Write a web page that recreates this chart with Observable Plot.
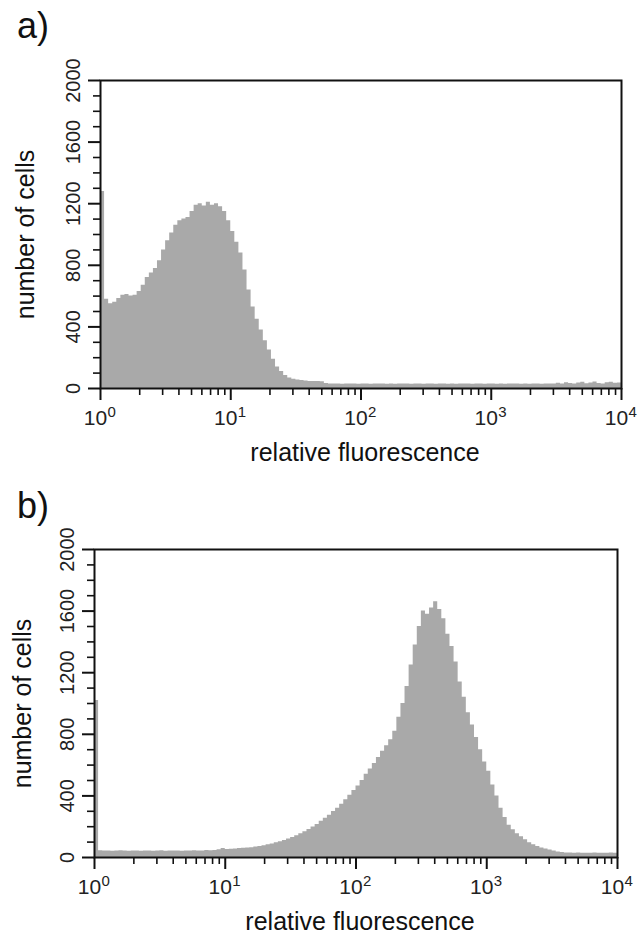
<!DOCTYPE html>
<html><head><meta charset="utf-8">
<script src="https://cdn.jsdelivr.net/npm/d3@7"></script>
<script src="https://cdn.jsdelivr.net/npm/@observablehq/plot@0.6"></script>
<style>
body{margin:0;background:#fff;font-family:"Liberation Sans",Arial,sans-serif;}
.panel{position:relative;width:639px;}
.tag{position:absolute;left:17px;font-size:36px;line-height:1;color:#111;}
svg{display:block}
</style></head><body>
<div id="pa" class="panel"><div class="tag" style="top:8px">a)</div></div>
<div id="pb" class="panel"><div class="tag" style="top:18px">b)</div></div>
<script>
// histogram channels: 32 bins per decade, from 10^0 to 10^4
const binsPerDecade = 32;
const countsA = [
  1280, 580, 550, 560, 585, 605, 610, 600,
  605, 630, 670, 720, 750, 780, 830, 900,
  960, 1010, 1060, 1090, 1100, 1110, 1150, 1190,
  1200, 1185, 1210, 1190, 1200, 1180, 1150, 1090,
  1020, 950, 880, 770, 640, 530, 450, 380,
  310, 250, 190, 140, 110, 85, 68, 60,
  55, 52, 48, 46, 45, 45, 44, 32,
  30, 29, 30, 28, 29, 30, 29, 28,
  29, 30, 28, 29, 29, 30, 28, 29,
  28, 29, 30, 29, 28, 29, 30, 28,
  29, 29, 28, 30, 29, 28, 29, 28,
  29, 30, 29, 28, 29, 29, 28, 30,
  29, 28, 29, 28, 29, 30, 29, 28,
  29, 28, 30, 29, 28, 29, 30, 29,
  34, 30, 38, 32, 29, 36, 40, 31,
  35, 42, 33, 30, 38, 41, 34, 36
];
const countsB = [
  1020, 44, 42, 43, 41, 42, 44, 42,
  41, 43, 42, 40, 42, 43, 41, 42,
  44, 41, 42, 43, 42, 41, 43, 42,
  44, 42, 43, 45, 44, 46, 50, 58,
  52, 54, 56, 58, 60, 62, 64, 68,
  72, 76, 82, 88, 95, 102, 110, 120,
  130, 142, 155, 168, 182, 198, 215, 235,
  255, 275, 298, 320, 345, 375, 405, 435,
  465, 500, 540, 575, 610, 650, 690, 725,
  765, 820, 910, 1000, 1110, 1250, 1380, 1500,
  1600, 1580, 1620, 1660, 1610, 1550, 1450, 1370,
  1270, 1140, 1040, 940, 860, 780, 700, 620,
  560, 470, 400, 320, 260, 210, 180, 155,
  135, 115, 95, 82, 72, 62, 56, 48,
  42, 36, 32, 30, 29, 28, 29, 28,
  27, 28, 29, 28, 27, 28, 29, 28
];
const xMajorTicks = [1, 10, 100, 1000, 10000];
const xTickBase = "10";
const xExponents = ["0", "1", "2", "3", "4"];
const xMinorTicks = [1, 10, 100, 1000].flatMap(d => [2, 3, 4, 5, 6, 7, 8, 9].map(k => k * d));
const yMajorTicks = [0, 400, 800, 1200, 1600, 2000];
const yMinorTicks = [100, 200, 300, 500, 600, 700, 900, 1000, 1100, 1300, 1400, 1500, 1700, 1800, 1900];
const xLabel = "relative fluorescence";
const yLabel = "number of cells";

function toSeries(counts) {
  const pts = counts.map((c, i) => ({x: 10 ** (i / binsPerDecade), y: c}));
  pts.push({x: 10 ** (counts.length / binsPerDecade), y: counts[counts.length - 1]});
  return pts;
}

function panel(counts, m) {
  return Plot.plot({
    width: 639, height: m.height,
    marginTop: m.top, marginRight: m.right, marginBottom: m.bottom, marginLeft: m.left,
    style: {fontFamily: '"Liberation Sans", Arial, sans-serif', background: "transparent", color: "#111"},
    x: {type: "log", domain: [1, 10000]},
    y: {domain: [0, 2000]},
    marks: [
      Plot.areaY(toSeries(counts), {x: "x", y: "y", curve: "step-after", fill: "#a9a9a9"}),
      Plot.axisY(yMinorTicks, {tickSize: 7, tickFormat: () => "", strokeWidth: 1.6, label: null}),
      Plot.axisY(yMajorTicks, {tickSize: 12, tickFormat: () => "", strokeWidth: 2, label: null}),
      Plot.axisX(xMinorTicks, {tickSize: 7, tickFormat: () => "", strokeWidth: 1.6, label: null}),
      Plot.axisX(xMajorTicks, {tickSize: 12, tickFormat: () => "", strokeWidth: 2, label: null}),
      Plot.frame({stroke: "#111", strokeWidth: 2}),
      Plot.text(yMajorTicks, {y: d => d, frameAnchor: "left", text: d => String(d), rotate: -90,
        dx: -21, lineAnchor: "bottom", textAnchor: "middle", fontSize: 20, fill: "#222"}),
      Plot.text(xMajorTicks, {x: d => d, frameAnchor: "bottom", text: () => xTickBase,
        dx: -5, dy: 29.5, lineAnchor: "middle", textAnchor: "middle", fontSize: 21, fill: "#222"}),
      Plot.text(xMajorTicks, {x: d => d, frameAnchor: "bottom", text: (d, i) => xExponents[i],
        dx: 7, dy: 23.5, lineAnchor: "middle", textAnchor: "start", fontSize: 15, fill: "#222"}),
      Plot.text([xLabel], {frameAnchor: "bottom", dx: 4, dy: 64, lineAnchor: "middle", textAnchor: "middle", fontSize: 25, fill: "#111"}),
      Plot.text([yLabel], {frameAnchor: "left", rotate: -90, dx: m.ylab, lineAnchor: "middle", textAnchor: "middle", fontSize: 25, fill: "#111"})
    ]
  });
}

document.getElementById("pa").appendChild(panel(countsA, {height: 470, top: 80, right: 18, bottom: 82, left: 100, ylab: -75}));
document.getElementById("pb").appendChild(panel(countsB, {height: 465, top: 79, right: 22, bottom: 78, left: 94, ylab: -72}));
</script>
</body></html>
